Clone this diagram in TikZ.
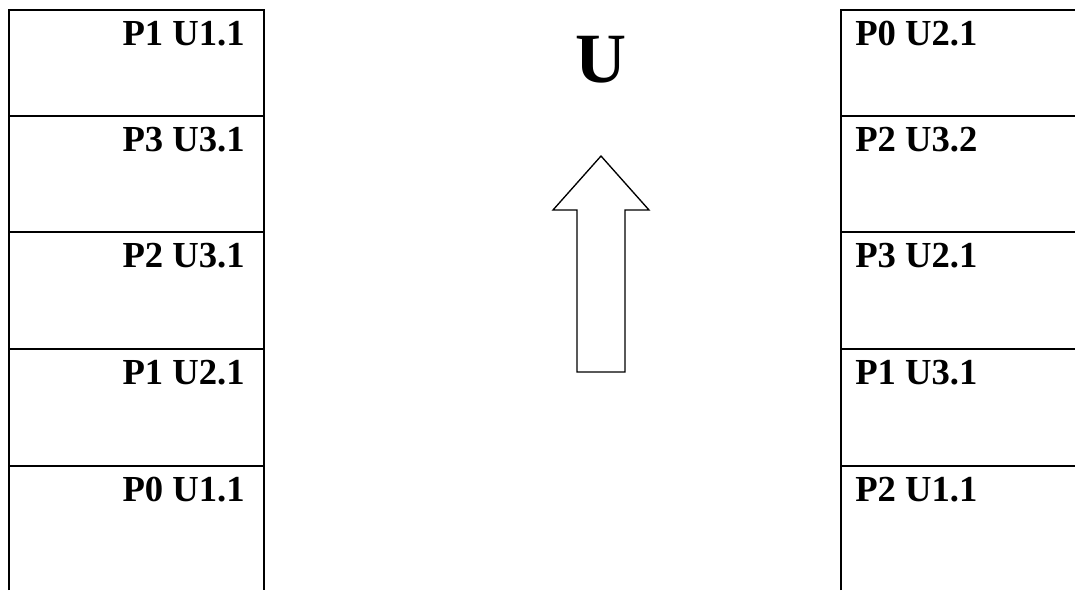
\documentclass[tikz,border=0pt]{standalone}
\usepackage{fontspec}
\setmainfont{Liberation Serif}
\tikzset{
  grid/.style={line width=1.5pt,black},
  outline/.style={line width=1pt,black,fill=white,line join=miter},
  cell/.style={font=\fontsize{27.5}{32}\selectfont\bfseries,inner sep=0pt},
  big/.style={font=\fontsize{53}{60}\selectfont\bfseries,inner sep=0pt},
}
\begin{document}
\begin{tikzpicture}[x=0.75pt,y=-0.75pt]
  \useasboundingbox (0,0) rectangle (1075,590);
  % two columns of slots
  \draw[grid] (9,590) -- (9,10) -- (264,10) -- (264,590);
  \draw[grid] (841,590) -- (841,10) -- (1075,10);
  \foreach \y in {116,232,349,466} {
    \draw[grid] (9,\y) -- (264,\y);
    \draw[grid] (841,\y) -- (1075,\y);
  }
  \foreach \i/\y/\l/\r in {1/45/P1 U1.1/P0 U2.1, 2/151/P3 U3.1/P2 U3.2,
      3/267/P2 U3.1/P3 U2.1, 4/384/P1 U2.1/P1 U3.1, 5/501/P0 U1.1/P2 U1.1} {
    \node[cell,anchor=base east] (L\i) at (245,\y) {\l};
    \node[cell,anchor=base west] (R\i) at (855,\y) {\r};
  }
  % direction
  \node[big,anchor=base] (U) at (601,82) {U};
  \draw[outline] (577,372) -- (577,210) -- (553,210) -- (601,156)
      -- (649,210) -- (625,210) -- (625,372) -- cycle;
\end{tikzpicture}
\end{document}
